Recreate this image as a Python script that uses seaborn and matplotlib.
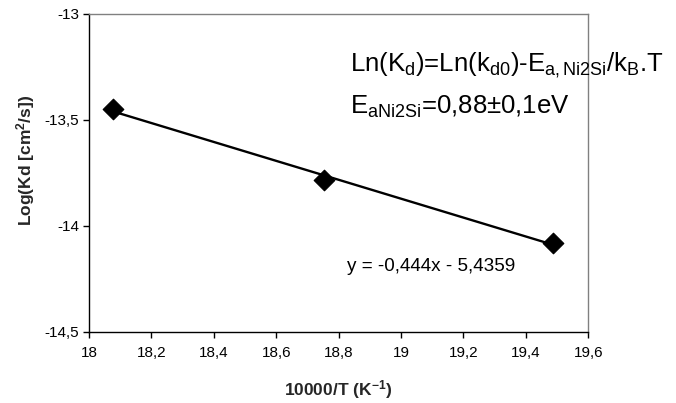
import matplotlib
matplotlib.use("Agg")
import matplotlib.pyplot as plt
import matplotlib.ticker as mticker
import seaborn as sns
import pandas as pd

# Data
inv_T = [18.076, 18.754, 19.487]
log_kd = [-13.448, -13.783, -14.078]
x_ticks = [18.0, 18.2, 18.4, 18.6, 18.8, 19.0, 19.2, 19.4, 19.6]
y_ticks = [-14.5, -14.0, -13.5, -13.0]
fit_label = "y = -0,444x - 5,4359"

df = pd.DataFrame({"x": inv_T, "y": log_kd})

sns.set_theme(style="white")
plt.rcParams["font.family"] = ["Liberation Sans", "DejaVu Sans"]
plt.rcParams["mathtext.fontset"] = "custom"
plt.rcParams["mathtext.rm"] = "Liberation Sans"
plt.rcParams["mathtext.it"] = "Liberation Sans"
plt.rcParams["mathtext.bf"] = "Liberation Sans:bold"

fig = plt.figure(figsize=(6.76, 4.03), dpi=100)
ax = fig.add_axes([0.1317, 0.1762, 0.7384, 0.7891])

sns.regplot(data=df, x="x", y="y", ax=ax, ci=None, scatter=False, truncate=True,
            line_kws={"color": "black", "lw": 1.7})
sns.scatterplot(data=df, x="x", y="y", ax=ax, marker="D", s=110, color="black",
                edgecolor="black", zorder=5, legend=False)

ax.set_xlim(18.0, 19.6)
ax.set_ylim(-14.5, -13.0)
ax.set_xticks(x_ticks)
ax.set_yticks(y_ticks)

def comma_fmt(v, pos):
    s = f"{v:.1f}"
    if s.endswith(".0"):
        s = s[:-2]
    return s.replace(".", ",")

ax.xaxis.set_major_formatter(mticker.FuncFormatter(comma_fmt))
ax.yaxis.set_major_formatter(mticker.FuncFormatter(comma_fmt))

ax.tick_params(axis="both", direction="out", length=4, width=1, color="black",
               labelsize=11, labelcolor="black", left=True, bottom=True)
ax.tick_params(axis="x", pad=6)
ax.tick_params(axis="y", pad=3)

for side in ["left", "bottom"]:
    ax.spines[side].set_color("black")
    ax.spines[side].set_linewidth(1.0)
for side in ["top", "right"]:
    ax.spines[side].set_color("#808080")
    ax.spines[side].set_linewidth(1.0)

ax.set_xlabel("10000/T (K$^{\\mathbf{-1}}$)", fontsize=12.5, fontweight="bold", labelpad=13)
ax.set_ylabel("Log(Kd [cm$^{\\mathbf{2}}$/s])", fontsize=12.5, fontweight="bold")
ax.yaxis.set_label_coords(-0.104, 0.538)

fig.text(0.5178, 0.839,
         "Ln(K$_{\\mathregular{d}}$)=Ln(k$_{\\mathregular{d0}}$)-E$_{\\mathregular{a,Ni2Si}}$/k$_{\\mathregular{B}}$.T",
         fontsize=18.5, ha="left", va="center", color="black")
fig.text(0.5178, 0.734,
         "E$_{\\mathregular{aNi2Si}}$=0,88±0,1eV",
         fontsize=18.5, ha="left", va="center", color="black")
fig.text(0.513, 0.3375, fit_label, fontsize=13.6,
         ha="left", va="center", color="black")

fig.savefig("out.png", dpi=100)
